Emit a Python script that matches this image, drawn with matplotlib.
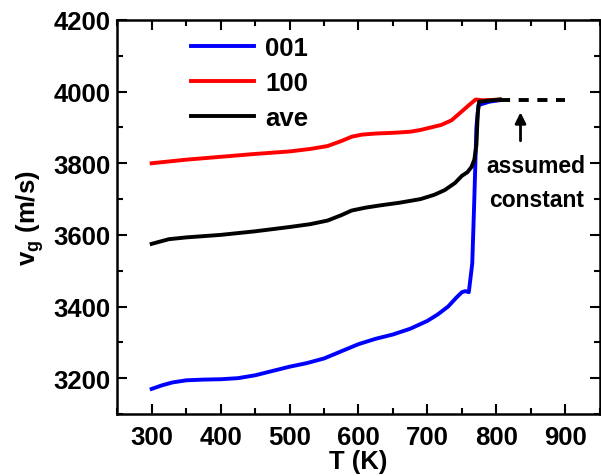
import matplotlib
matplotlib.use('Agg')
import matplotlib.pyplot as plt
from matplotlib.ticker import MultipleLocator
import numpy as np

plt.rcParams['font.family'] = 'Liberation Sans'
plt.rcParams['font.weight'] = 'bold'

# group velocity along [001]
T_001 = [300, 315, 330, 350, 375, 400, 425, 450, 475, 500, 525, 550, 575, 600, 625, 650,
         675, 700, 715, 730, 742, 750, 755, 760, 765, 768, 771, 774, 780, 790, 805]
v_001 = [3170, 3180, 3188, 3194, 3196, 3197, 3200, 3208, 3220, 3232, 3242, 3255, 3275, 3295,
         3310, 3322, 3338, 3360, 3378, 3400, 3425, 3440, 3443, 3440, 3520, 3700, 3900, 3962, 3966, 3972, 3976]

# group velocity along [100]
T_100 = [300, 350, 400, 450, 500, 530, 555, 575, 590, 605, 625, 650, 675, 690, 705, 720,
         735, 750, 760, 770, 780, 795, 805]
v_100 = [3800, 3810, 3818, 3826, 3833, 3840, 3848, 3862, 3874, 3880, 3883, 3885, 3888, 3893,
         3900, 3907, 3920, 3945, 3962, 3978, 3976, 3977, 3978]

# average
T_ave = [300, 325, 350, 400, 450, 500, 530, 555, 575, 590, 610, 630, 660, 690, 710, 725, 740,
         750, 758, 764, 768, 771, 773, 775, 785, 805]
v_ave = [3575, 3588, 3593, 3600, 3610, 3622, 3630, 3640, 3655, 3668, 3676, 3682, 3690, 3700,
         3712, 3725, 3745, 3765, 3775, 3790, 3810, 3850, 3940, 3972, 3974, 3978]

# assumed constant extrapolation
T_const = [805, 900]
v_const = [3978, 3978]

fig = plt.figure(figsize=(6.01, 4.77), dpi=100)
ax = fig.add_axes([0.195, 0.13, 0.803, 0.826])

ax.plot(T_001, v_001, color='blue', lw=2.8, label='001', solid_joinstyle='round')
ax.plot(T_100, v_100, color='red', lw=2.8, label='100', solid_joinstyle='round')
ax.plot(T_ave, v_ave, color='black', lw=2.8, label='ave', solid_joinstyle='round')
ax.plot(T_const, v_const, color='black', lw=2.8, linestyle=(0, (2.6, 2.2)))

ax.annotate('', xy=(835, 3950), xytext=(835, 3855),
            arrowprops=dict(arrowstyle='-|>', color='black', lw=2, mutation_scale=16))
ax.text(858, 3795, 'assumed', ha='center', va='center', fontsize=16.5, fontweight='bold')
ax.text(858, 3700, 'constant', ha='center', va='center', fontsize=16.5, fontweight='bold')

ax.set_xlim(250, 950)
ax.set_ylim(3100, 4200)
ax.xaxis.set_major_locator(MultipleLocator(100))
ax.xaxis.set_minor_locator(MultipleLocator(50))
ax.yaxis.set_major_locator(MultipleLocator(200))
ax.yaxis.set_minor_locator(MultipleLocator(100))
ax.tick_params(which='both', direction='in', top=True, right=True, width=1.5)
ax.tick_params(which='major', length=7, labelsize=18.5, pad=5)
ax.tick_params(axis='x', which='major', pad=8)
ax.tick_params(which='minor', length=4)
for s in ax.spines.values():
    s.set_linewidth(1.8)

ax.set_xlabel('T (K)', fontsize=18.5, fontweight='bold', labelpad=0)
ax.set_ylabel(r'v$_\mathregular{g}$ (m/s)', fontsize=18.5, fontweight='bold', labelpad=5)

ax.legend(loc='upper left', bbox_to_anchor=(0.115, 1.005), frameon=False, fontsize=18.5,
          handlelength=2.45, handletextpad=0.45, labelspacing=0.43, borderaxespad=0.3)

fig.savefig('out.png', dpi=100)
